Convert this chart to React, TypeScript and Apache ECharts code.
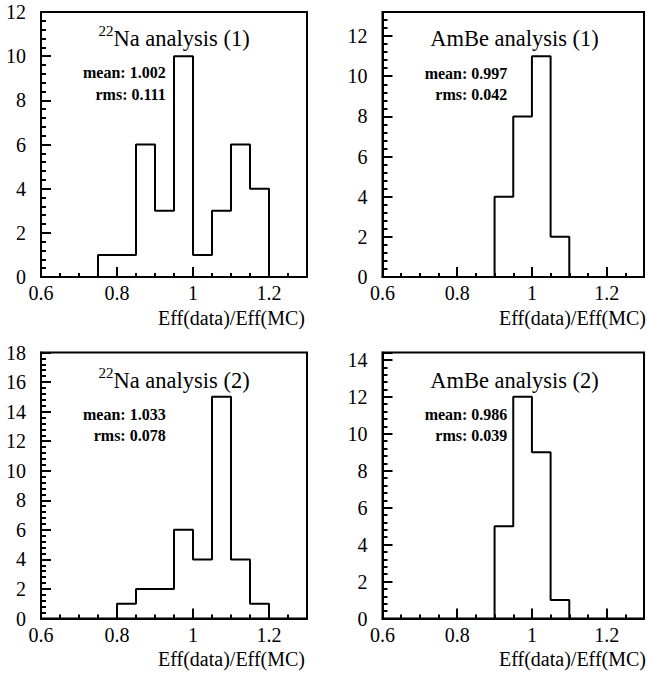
import React, { useEffect, useRef } from 'react';
import * as echarts from 'echarts';

const FONT = 'Liberation Serif';

// ---- data ----
const na1Edges = [0.75, 0.8, 0.85, 0.9, 0.95, 1.0, 1.05, 1.1, 1.15, 1.2];
const na1Counts = [1, 1, 6, 3, 10, 1, 3, 6, 4];
const ambe1Edges = [0.9, 0.95, 1.0, 1.05, 1.1];
const ambe1Counts = [4, 8, 11, 2];
const na2Edges = [0.8, 0.85, 0.9, 0.95, 1.0, 1.05, 1.1, 1.15, 1.2];
const na2Counts = [1, 2, 2, 6, 4, 15, 4, 1];
const ambe2Edges = [0.9, 0.95, 1.0, 1.05, 1.1];
const ambe2Counts = [5, 12, 9, 1];

const xMin = 0.6;
const xMax = 1.3;
const xMajorStep = 0.2;
const xMinorStep = 0.05;
const yMaxes = [12, 13.2, 18, 14.4];
const yMajorStep = 2;
const yMinorStep = 0.4;

const titleIsotopes = ['22', '', '22', ''];
const titleTexts = ['Na analysis (1)', 'AmBe analysis (1)', 'Na analysis (2)', 'AmBe analysis (2)'];
const meanValues = ['1.002', '0.997', '1.033', '0.986'];
const rmsValues = ['0.111', '0.042', '0.078', '0.039'];
const xAxisTitle = 'Eff(data)/Eff(MC)';

const allEdges = [na1Edges, ambe1Edges, na2Edges, ambe2Edges];
const allCounts = [na1Counts, ambe1Counts, na2Counts, ambe2Counts];

// ---- layout (pixels) ----
const layouts = [
  { left: 41, top: 12, width: 266, height: 265, titleX: 113.5, titleBase: 45.7, supBase: 36, statRight: 165.7, meanBase: 78.3, rmsBase: 100, nameRight: 305, nameBase: 325 },
  { left: 382.5, top: 12, width: 266, height: 265, titleX: 514.5, titleBase: 45.7, supBase: 36, statRight: 507.3, meanBase: 78.8, rmsBase: 100, nameRight: 646, nameBase: 325 },
  { left: 41, top: 352.5, width: 266, height: 266, titleX: 113.5, titleBase: 387.8, supBase: 378, statRight: 165.7, meanBase: 420, rmsBase: 441, nameRight: 305, nameBase: 666 },
  { left: 382.5, top: 352.5, width: 266, height: 266, titleX: 514.5, titleBase: 387.8, supBase: 378, statRight: 507.3, meanBase: 420, rmsBase: 441, nameRight: 646, nameBase: 666 },
];

function outline(edges: number[], counts: number[]): number[][] {
  const pts: number[][] = [[edges[0], 0]];
  for (let i = 0; i < counts.length; i++) {
    pts.push([edges[i], counts[i]]);
    pts.push([edges[i + 1], counts[i]]);
  }
  pts.push([edges[edges.length - 1], 0]);
  return pts;
}

const CENTRAL = 0.3375; // central baseline offset ratio for Liberation Serif

function textAt(x: number, baseline: number, text: string, size: number, align: string, weight: string = 'normal') {
  return {
    type: 'text',
    x,
    y: baseline - CENTRAL * size,
    silent: true,
    z: 100,
    style: {
      text,
      fill: '#000',
      fontFamily: FONT,
      fontSize: size,
      fontWeight: weight,
      align,
      verticalAlign: 'middle',
    },
  };
}

function buildOption() {
  const grid: any[] = [];
  const xAxis: any[] = [];
  const yAxis: any[] = [];
  const series: any[] = [];
  const graphic: any[] = [];

  layouts.forEach((L, i) => {
    grid.push({
      left: L.left,
      top: L.top,
      width: L.width,
      height: L.height,
      show: true,
      borderColor: '#000',
      borderWidth: 2,
      backgroundColor: 'transparent',
      containLabel: false,
    });
    xAxis.push({
      type: 'value',
      gridIndex: i,
      position: 'bottom',
      min: xMin,
      max: xMax,
      interval: xMajorStep,
      axisLine: { show: true, onZero: false, lineStyle: { color: '#000', width: 2 } },
      axisTick: { show: true, inside: true, length: 10, lineStyle: { color: '#000', width: 2 } },
      axisLabel: {
        show: true,
        margin: 6,
        color: '#000',
        fontFamily: FONT,
        fontSize: 20,
        formatter: (v: number) => (Math.abs(v - xMax) < 1e-6 ? '' : String(+v.toFixed(2))),
      },
      splitLine: { show: false },
    });
    xAxis.push({
      type: 'value',
      gridIndex: i,
      position: 'bottom',
      min: xMin,
      max: xMax,
      interval: xMinorStep,
      axisLine: { show: false },
      axisTick: { show: true, inside: true, length: 4, lineStyle: { color: '#000', width: 2 } },
      axisLabel: { show: false },
      splitLine: { show: false },
    });
    const yMax = yMaxes[i];
    yAxis.push({
      type: 'value',
      gridIndex: i,
      position: 'left',
      min: 0,
      max: yMax,
      interval: yMajorStep,
      axisLine: { show: true, onZero: false, lineStyle: { color: '#000', width: 2 } },
      axisTick: { show: true, inside: true, length: 10, lineStyle: { color: '#000', width: 2 } },
      axisLabel: {
        show: true,
        margin: 15,
        color: '#000',
        fontFamily: FONT,
        fontSize: 20,
        formatter: (v: number) => (Math.abs(v / yMajorStep - Math.round(v / yMajorStep)) < 1e-6 ? String(Math.round(v)) : ''),
      },
      splitLine: { show: false },
    });
    yAxis.push({
      type: 'value',
      gridIndex: i,
      position: 'left',
      min: 0,
      max: yMax,
      interval: yMinorStep,
      axisLine: { show: false },
      axisTick: { show: true, inside: true, length: 5, lineStyle: { color: '#000', width: 2 } },
      axisLabel: { show: false },
      splitLine: { show: false },
    });
    series.push({
      type: 'line',
      xAxisIndex: 2 * i,
      yAxisIndex: 2 * i,
      data: outline(allEdges[i], allCounts[i]),
      symbol: 'none',
      showSymbol: false,
      silent: true,
      lineStyle: { color: '#000', width: 2 },
      z: 5,
    });

    if (titleIsotopes[i]) {
      graphic.push(textAt(L.titleX, L.supBase, titleIsotopes[i], 15, 'right'));
      graphic.push(textAt(L.titleX, L.titleBase, titleTexts[i], 22.5, 'left'));
    } else {
      graphic.push(textAt(L.titleX, L.titleBase, titleTexts[i], 22.5, 'center'));
    }
    graphic.push(textAt(L.statRight, L.meanBase, `mean: ${meanValues[i]}`, 16, 'right', 'bold'));
    graphic.push(textAt(L.statRight, L.rmsBase, `rms: ${rmsValues[i]}`, 16, 'right', 'bold'));
    graphic.push(textAt(L.nameRight, L.nameBase, xAxisTitle, 20, 'right'));
  });

  return {
    animation: false,
    backgroundColor: '#fff',
    grid,
    xAxis,
    yAxis,
    series,
    graphic,
  };
}

export default function App() {
  const ref = useRef<HTMLDivElement>(null);
  useEffect(() => {
    if (!ref.current) return;
    const chart = echarts.init(ref.current, undefined, { renderer: 'svg' });
    chart.setOption(buildOption() as any);
    return () => chart.dispose();
  }, []);
  return (
    <div
      ref={ref}
      style={{ position: 'fixed', left: 0, top: 0, width: 647, height: 673, background: '#fff' }}
    />
  );
}
